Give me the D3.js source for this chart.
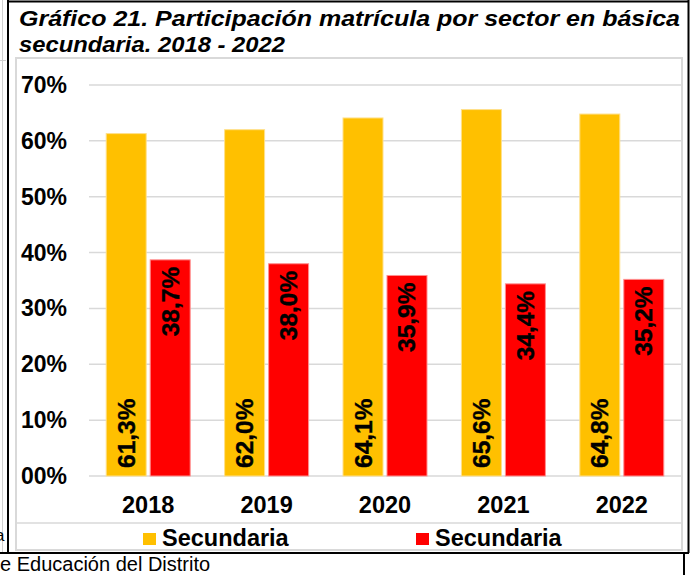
<!DOCTYPE html>
<html>
<head>
<meta charset="utf-8">
<script src="https://cdn.jsdelivr.net/npm/d3@7"></script>
<style>
  html, body { margin: 0; padding: 0; background: #fff; }
  svg { display: block; }
  text { font-family: Arial, "Liberation Sans", sans-serif; }
</style>
</head>
<body>
<svg id="chart" width="694" height="575"></svg>
<script>
// ---- data ----
const years = ["2018", "2019", "2020", "2021", "2022"];
const seriesNames = ["Secundaria", "Secundaria"];
const seriesColors = ["#FFC000", "#FF0000"];
const seriesStroke = ["#FFE08A", "#FF8F8F"];
const valuesA = [0.613, 0.620, 0.641, 0.656, 0.648];
const valuesB = [0.387, 0.380, 0.359, 0.344, 0.352];
const labelsA = ["61,3%", "62,0%", "64,1%", "65,6%", "64,8%"];
const labelsB = ["38,7%", "38,0%", "35,9%", "34,4%", "35,2%"];
const yTicks = [0, 0.1, 0.2, 0.3, 0.4, 0.5, 0.6, 0.7];
const yTickLabels = ["00%", "10%", "20%", "30%", "40%", "50%", "60%", "70%"];
const titleLine1 = "Gráfico 21. Participación matrícula por sector en básica";
const titleLine2 = "secundaria. 2018 - 2022";
const footer = "e Educación del Distrito";

const svg = d3.select("#chart");

// ---- page frame (document context) ----
svg.append("line").attr("x1", 2.5).attr("x2", 2.5).attr("y1", 0).attr("y2", 552)
  .attr("stroke", "#d0d0d0").attr("stroke-width", 1);
svg.append("line").attr("x1", 0).attr("x2", 6).attr("y1", 60.5).attr("y2", 60.5)
  .attr("stroke", "#d0d0d0").attr("stroke-width", 1);
svg.append("text").attr("x", -5).attr("y", 541).attr("font-size", 17).attr("fill", "#000").text("a");

// chart area border
svg.append("rect").attr("x", 16).attr("y", 58).attr("width", 666).attr("height", 492)
  .attr("fill", "#fff").attr("stroke", "#d9d9d9").attr("stroke-width", 2);

// black frame
const frame = svg.append("g").attr("stroke", "#000").attr("stroke-width", 2);
frame.append("line").attr("x1", 8).attr("x2", 8).attr("y1", 0).attr("y2", 553);
frame.append("line").attr("x1", 7).attr("x2", 689).attr("y1", 1.5).attr("y2", 1.5);
frame.append("line").attr("x1", 688.5).attr("x2", 688.5).attr("y1", 0).attr("y2", 553);
frame.append("line").attr("x1", 0).attr("x2", 689).attr("y1", 553).attr("y2", 553);
frame.append("line").attr("x1", 684).attr("x2", 684).attr("y1", 553).attr("y2", 575);

// ---- title ----
const titleSize = 22.5;
svg.append("text").attr("x", 19).attr("y", 26).attr("font-size", titleSize)
  .attr("font-weight", "bold").attr("font-style", "italic").attr("fill", "#000")
  .attr("textLength", 661).attr("lengthAdjust", "spacingAndGlyphs")
  .text(titleLine1);
svg.append("text").attr("x", 19).attr("y", 51.5).attr("font-size", titleSize)
  .attr("font-weight", "bold").attr("font-style", "italic").attr("fill", "#000")
  .attr("textLength", 266).attr("lengthAdjust", "spacingAndGlyphs")
  .text(titleLine2);

// ---- scales ----
const x0 = d3.scaleBand().domain(years).range([89, 681]).padding(0);
const x1 = d3.scaleBand().domain([0, 1]).range([0, x0.bandwidth()])
  .paddingInner(0.0909).paddingOuter(0.391);
const y = d3.scaleLinear().domain([0, 0.7]).range([476, 85]);

// gridlines
svg.append("g").selectAll("line").data(yTicks).join("line")
  .attr("x1", 89).attr("x2", 681)
  .attr("y1", d => y(d)).attr("y2", d => y(d))
  .attr("stroke", "#d9d9d9").attr("stroke-width", 1.5);

// y labels
svg.append("g").selectAll("text").data(yTicks).join("text")
  .attr("x", 21).attr("y", d => y(d) + 8)
  .attr("font-size", 23).attr("font-weight", "bold").attr("fill", "#000")
  .text((d, i) => yTickLabels[i]);

// x labels
svg.append("g").selectAll("text").data(years).join("text")
  .attr("x", d => x0(d) + x0.bandwidth() / 2).attr("y", 513)
  .attr("text-anchor", "middle")
  .attr("font-size", 23.5).attr("font-weight", "bold").attr("fill", "#000")
  .text(d => d);

// separator above legend
svg.append("line").attr("x1", 17).attr("x2", 681).attr("y1", 523).attr("y2", 523)
  .attr("stroke", "#d9d9d9").attr("stroke-width", 1.5);

// bars
const series = [valuesA, valuesB];
series.forEach((vals, s) => {
  svg.append("g").selectAll("rect").data(years).join("rect")
    .attr("x", d => x0(d) + x1(s))
    .attr("width", x1.bandwidth())
    .attr("y", (d, i) => y(vals[i]))
    .attr("height", (d, i) => y(0) - y(vals[i]))
    .attr("fill", seriesColors[s])
    .attr("stroke", seriesStroke[s]).attr("stroke-width", 1);
});

// data labels (rotated)
svg.append("g").selectAll("text").data(years).join("text")
  .attr("transform", (d, i) => `translate(${x0(d) + x1(0) + x1.bandwidth() / 2 + 8.5},${y(0) - 8}) rotate(-90)`)
  .attr("text-anchor", "start")
  .attr("font-size", 24.5).attr("font-weight", "bold").attr("fill", "#000")
  .attr("stroke", "#000").attr("stroke-width", 0.4)
  .text((d, i) => labelsA[i]);
svg.append("g").selectAll("text").data(years).join("text")
  .attr("transform", (d, i) => `translate(${x0(d) + x1(1) + x1.bandwidth() / 2 + 8.5},${y(valuesB[i]) + 7}) rotate(-90)`)
  .attr("text-anchor", "end")
  .attr("font-size", 24.5).attr("font-weight", "bold").attr("fill", "#000")
  .attr("stroke", "#000").attr("stroke-width", 0.4)
  .text((d, i) => labelsB[i]);

// legend
const legendX = [143, 416];
seriesNames.forEach((name, s) => {
  svg.append("rect").attr("x", legendX[s]).attr("y", 533).attr("width", 13).attr("height", 12)
    .attr("fill", seriesColors[s]);
  svg.append("text").attr("x", legendX[s] + 19).attr("y", 545.5)
    .attr("font-size", 23.5).attr("font-weight", "bold").attr("fill", "#000").text(name);
});

// footer
svg.append("text").attr("x", 0).attr("y", 570.5).attr("font-size", 20).attr("fill", "#000").text(footer);
</script>
</body>
</html>
